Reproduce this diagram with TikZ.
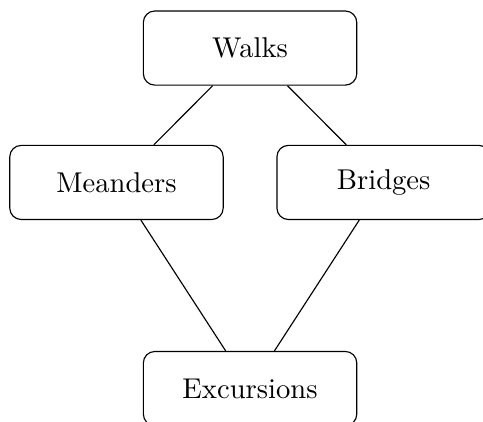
\documentclass[tikz,border=0pt]{standalone}
\begin{document}
\begin{tikzpicture}
        \tikzstyle{rbox} = [shape=rectangle, draw, rounded corners, align=center,
                            minimum width=2.62cm, minimum height=0.91cm]

        \useasboundingbox (0, 0) rectangle (5.93, -5.17);

        \node[rbox] (walks)      at (3.07, -0.59) {Walks};
        \node[rbox] (meanders)   at (1.43, -2.24) {Meanders};
        \node[rbox] (bridges)    at (4.71, -2.24) {Bridges};
        \node[rbox] (excursions) at (3.07, -4.77) {Excursions};

        \draw (walks) -- (meanders);
        \draw (walks) -- (bridges);
        \draw (meanders) -- (excursions);
        \draw (bridges)  -- (excursions);

\end{tikzpicture}
\end{document}
